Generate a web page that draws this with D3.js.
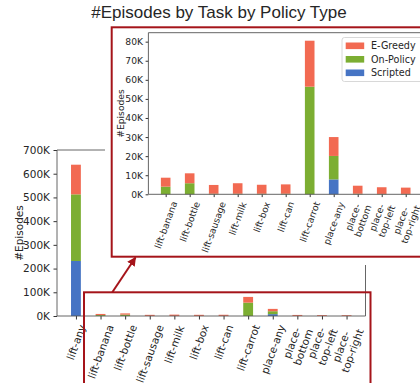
<!DOCTYPE html>
<html>
<head>
<meta charset="utf-8">
<script src="https://cdn.jsdelivr.net/npm/d3@7/dist/d3.min.js"></script>
<style>
  html, body { margin: 0; padding: 0; background: #fff; }
  svg { display: block; }
  .tick text { font-family: "DejaVu Sans", sans-serif; fill: #262626; }
</style>
</head>
<body>
<svg id="chart" width="420" height="383"></svg>
<script>
// Episode counts per task, split by the policy that collected them
const categories = ["lift-any", "lift-banana", "lift-bottle", "lift-sausage", "lift-milk", "lift-box",
  "lift-can", "lift-carrot", "place-any", "place-\nbottom", "place-\ntop-left", "place-\ntop-right"];
const scripted = [232000, 0, 0, 0, 0, 0, 0, 0, 7800, 0, 0, 0];
const onPolicy = [281000, 4000, 5800, 300, 300, 300, 300, 56400, 12300, 300, 200, 200];
const eGreedy  = [125000, 4700, 5200, 4600, 5500, 4700, 4900, 24100, 9900, 4200, 3500, 3300];

const seriesNames = ["Scripted", "On-Policy", "E-Greedy"];
const colors = { "Scripted": "#4674c4", "On-Policy": "#7cae32", "E-Greedy": "#f26a52" };
const mainTicks = [0, 100000, 200000, 300000, 400000, 500000, 600000, 700000];
const insetTicks = [0, 10000, 20000, 30000, 40000, 50000, 60000, 70000, 80000];

const rows = categories.map((c, i) => ({
  cat: c, idx: i, "Scripted": scripted[i], "On-Policy": onPolicy[i], "E-Greedy": eGreedy[i]
}));
const stack = d3.stack().keys(seriesNames);

const svg = d3.select("#chart");
const fmtK = v => (v / 1000) + "K";
const frameRed = "#a5141a";
const barWidth = 0.4;
const labelAngle = -70;

// rotated category labels, bounding box centred under each tick
function drawLabels(g, x, data, y0, fs) {
  data.forEach(d => {
    const outer = g.append("g").attr("transform", `translate(${x(d.idx)},${y0})`);
    const inner = outer.append("g").attr("transform", `rotate(${labelAngle})`);
    const lines = d.cat.split("\n");
    const t = inner.append("text")
      .attr("text-anchor", "middle")
      .style("font-family", "DejaVu Sans, sans-serif")
      .style("font-size", fs + "px")
      .style("fill", "#262626");
    lines.forEach((ln, k) => {
      t.append("tspan").attr("x", 0).attr("dy", k === 0 ? 0 : "1.15em").text(ln);
    });
    const bb = outer.node().getBBox();
    inner.attr("transform", `translate(${-(bb.x + bb.width / 2)},${-bb.y}) rotate(${labelAngle})`);
  });
}

function drawPanel(g, data, x, y, yTicks, o) {
  const series = stack(data);
  const bw = x(barWidth) - x(0);
  g.selectAll("g.layer").data(series).join("g")
    .attr("class", "layer")
    .attr("fill", s => colors[s.key])
    .selectAll("rect").data(s => s).join("rect")
      .attr("x", d => x(d.data.idx) - bw / 2)
      .attr("width", bw)
      .attr("y", d => y(d[1]))
      .attr("height", d => Math.max(0, y(d[0]) - y(d[1])));

  const [xl, xr] = x.range();
  const [yb, yt] = y.range();

  const ya = g.append("g").attr("transform", `translate(${xl},0)`)
    .call(d3.axisLeft(y).tickValues(yTicks).tickFormat(fmtK).tickSize(o.tick).tickPadding(o.pad));
  ya.select(".domain").remove();
  ya.selectAll(".tick line").attr("stroke", "#333");
  ya.selectAll(".tick text").style("font-size", o.fs + "px");

  const xa = g.append("g").attr("transform", `translate(0,${yb})`)
    .call(d3.axisBottom(x).tickValues(data.map(d => d.idx)).tickFormat("").tickSize(o.tick));
  xa.select(".domain").remove();
  xa.selectAll(".tick line").attr("stroke", "#333");

  // spines
  const sp = g.append("g").attr("stroke", "#555").attr("stroke-width", 0.9).attr("fill", "none");
  sp.append("line").attr("x1", xl).attr("x2", xr).attr("y1", yb).attr("y2", yb);
  sp.append("line").attr("x1", xl).attr("x2", xl).attr("y1", yb).attr("y2", yt);
  sp.append("line").attr("x1", xl).attr("x2", xr).attr("y1", yt).attr("y2", yt);
  sp.append("line").attr("x1", xr).attr("x2", xr).attr("y1", yb).attr("y2", yt);

  drawLabels(g, x, data, yb + o.tick + o.pad, o.fs);

  g.append("text")
    .attr("transform", `translate(${o.ylabelX},${(yb + yt) / 2}) rotate(-90)`)
    .attr("text-anchor", "middle")
    .style("font-family", "DejaVu Sans, sans-serif")
    .style("font-size", o.fs + "px")
    .style("fill", "#262626")
    .text("#Episodes");
}

// full overview panel
const xMain = d3.scaleLinear().domain([-0.77, 11.77]).range([57, 365.5]);
const yMain = d3.scaleLinear().domain([0, 700000]).range([316, 150]);
drawPanel(svg.append("g"), rows, xMain, yMain, mainTicks,
  { ylabelX: 22.5, fs: 10.5, tick: 3.5, pad: 3.5 });

// white backdrop for the magnified panel
svg.append("rect").attr("x", 105).attr("y", 0).attr("width", 330).attr("height", 265).attr("fill", "#fff");

// magnified panel without lift-any
const zoomRows = rows.slice(1).map((d, i) => Object.assign({}, d, { idx: i }));
const xIn = d3.scaleLinear().domain([-0.72, 10.72]).range([148.4, 423]);
const yIn = d3.scaleLinear().domain([0, 84700]).range([194.3, 32.7]);
drawPanel(svg.append("g"), zoomRows, xIn, yIn, insetTicks,
  { ylabelX: 124, fs: 9.2, tick: 2.8, pad: 2.6 });

// legend
const lg = svg.append("g").attr("transform", "translate(342,37.5)");
lg.append("rect").attr("width", 90).attr("height", 44).attr("rx", 2.5)
  .attr("fill", "#fff").attr("fill-opacity", 0.85).attr("stroke", "#d4d4d4").attr("stroke-width", 0.9);
seriesNames.slice().reverse().forEach((name, i) => {
  const row = lg.append("g").attr("transform", `translate(0,${8.3 + i * 13.5})`);
  row.append("rect").attr("x", 3.7).attr("y", -3.3).attr("width", 18.5).attr("height", 6.6).attr("fill", colors[name]);
  row.append("text").attr("x", 29).attr("y", 3.5)
    .style("font-family", "DejaVu Sans, sans-serif").style("font-size", "9.6px").style("fill", "#262626")
    .text(name);
});

// highlight frames and connecting arrow
svg.append("rect").attr("x", 111.7).attr("y", 27.3).attr("width", 330).attr("height", 229.4)
  .attr("fill", "none").attr("stroke", frameRed).attr("stroke-width", 2);
svg.append("rect").attr("x", 84).attr("y", 292.3).attr("width", 286.5).attr("height", 120)
  .attr("fill", "none").attr("stroke", frameRed).attr("stroke-width", 2);

svg.append("defs").append("marker")
  .attr("id", "head").attr("viewBox", "0 0 10 10").attr("refX", 9).attr("refY", 5)
  .attr("markerWidth", 4.5).attr("markerHeight", 4.5).attr("orient", "auto")
  .append("path").attr("d", "M0,0 L10,5 L0,10 z").attr("fill", frameRed);
svg.append("line").attr("x1", 112.3).attr("y1", 292.3).attr("x2", 135.5).attr("y2", 257.5)
  .attr("stroke", frameRed).attr("stroke-width", 2).attr("marker-end", "url(#head)");

// title
svg.append("text").attr("x", 219).attr("y", 17.5).attr("text-anchor", "middle")
  .style("font-family", "Liberation Sans, Arial, sans-serif").style("font-size", "17px").style("fill", "#262626")
  .text("#Episodes by Task by Policy Type");
</script>
</body>
</html>
